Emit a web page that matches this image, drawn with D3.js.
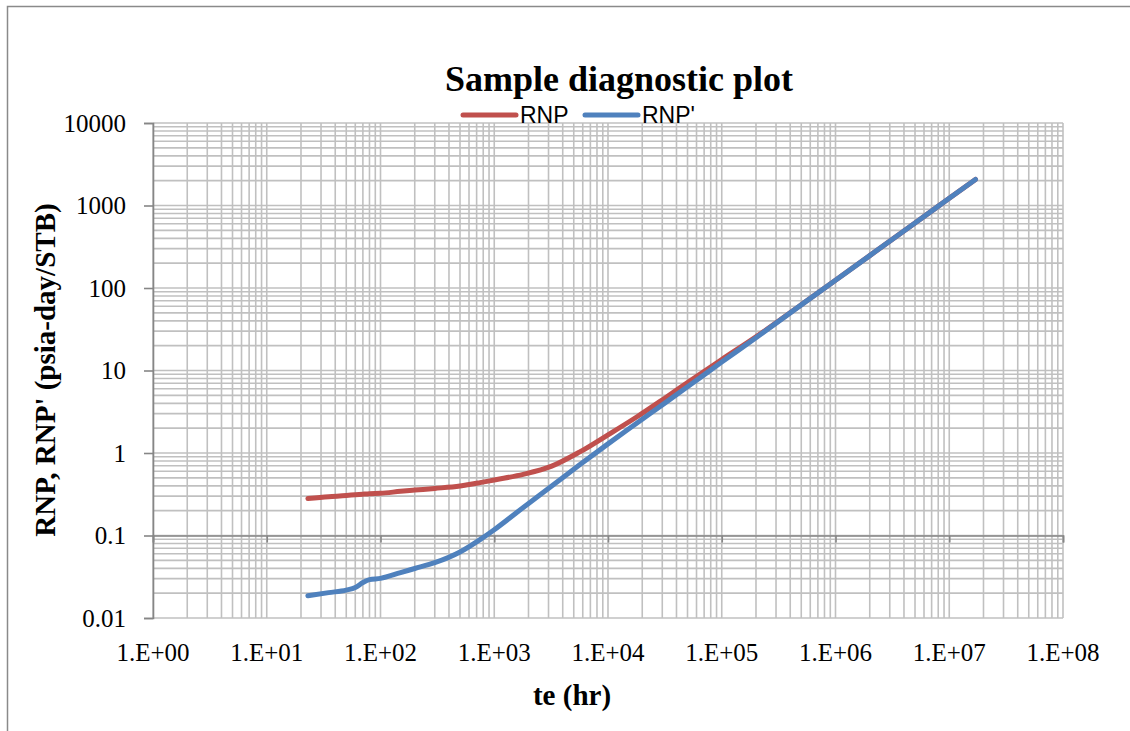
<!DOCTYPE html>
<html>
<head>
<meta charset="utf-8">
<script src="https://cdn.jsdelivr.net/npm/d3@7"></script>
<style>
  html, body { margin: 0; padding: 0; background: #fff; }
  svg { display: block; }
</style>
</head>
<body>
<svg id="chart" width="1130" height="731"></svg>
<script>
// Elapsed time (hr)
const timeHr = [23, 35, 50, 60, 70, 80, 100, 150, 200, 300, 500, 750, 1000, 1800, 3200, 5600,
  10000, 18000, 32000, 56000, 100000, 200000, 500000, 1e6, 2e6, 5e6, 1e7, 1.7e7];
// Rate-normalized pressure (psia-day/STB)
const rnp = [0.280, 0.295, 0.305, 0.312, 0.317, 0.321, 0.325, 0.343, 0.355, 0.372, 0.398, 0.437, 0.471, 0.55, 0.692, 1.023,
  1.66, 2.75, 4.68, 7.94, 13.6, 25.6, 62.6, 124, 247, 614, 1222, 2070];
// Derivative RNP'
const rnpDeriv = [0.0186, 0.0203, 0.0218, 0.0234, 0.0269, 0.0292, 0.0302, 0.0355, 0.0398, 0.0468, 0.0631, 0.0891, 0.1175, 0.219, 0.398, 0.713,
  1.29, 2.31, 4.08, 7.11, 12.65, 25.0, 62.4, 124, 247, 614, 1222, 2070];

const seriesNames = ["RNP", "RNP'"];
const seriesColors = ["#C0504D", "#4F81BD"];
const xTickLabels = ["1.E+00", "1.E+01", "1.E+02", "1.E+03", "1.E+04", "1.E+05", "1.E+06", "1.E+07", "1.E+08"];
const yTickLabels = ["0.01", "0.1", "1", "10", "100", "1000", "10000"];

const svg = d3.select("#chart");
const plot = { left: 153, right: 1063, top: 123, bottom: 618 };

const x = d3.scaleLog().domain([1, 1e8]).range([plot.left, plot.right]);
const y = d3.scaleLog().domain([0.01, 10000]).range([plot.bottom, plot.top]);

const xDecades = d3.range(0, 9).map(e => Math.pow(10, e));
const yDecades = d3.range(-2, 5).map(e => Math.pow(10, e));

// Outer chart frame
svg.append("rect")
  .attr("x", 7.5).attr("y", 6.5).attr("width", 1140).attr("height", 740)
  .attr("fill", "none").attr("stroke", "#8a8a8a").attr("stroke-width", 1.5);

const serif = "'Liberation Serif', 'Times New Roman', serif";

// Grid lines (major and minor)
const xGrid = [];
xDecades.slice(0, -1).forEach(d => { for (let k = 1; k <= 9; k++) xGrid.push(d * k); });
xGrid.push(1e8);
const yGrid = [];
yDecades.slice(0, -1).forEach(d => { for (let k = 1; k <= 9; k++) yGrid.push(d * k); });
yGrid.push(10000);

const grid = svg.append("g").attr("stroke", "#c0c0c0").attr("stroke-width", 1.6);
grid.selectAll("line.v").data(xGrid).join("line")
  .attr("class", "v")
  .attr("x1", d => x(d)).attr("x2", d => x(d))
  .attr("y1", plot.top).attr("y2", plot.bottom);
grid.selectAll("line.h").data(yGrid).join("line")
  .attr("class", "h")
  .attr("x1", plot.left).attr("x2", plot.right)
  .attr("y1", d => y(d)).attr("y2", d => y(d));

// Vertical axis
const yAxis = svg.append("g")
  .attr("transform", `translate(${plot.left},0)`)
  .call(d3.axisLeft(y).tickValues(yDecades).tickSize(9).tickPadding(18)
    .tickFormat((d, i) => yTickLabels[i]));
yAxis.select(".domain").attr("stroke", "#868686").attr("stroke-width", 1.6);
yAxis.selectAll(".tick line").attr("stroke", "#868686").attr("stroke-width", 1.6);
yAxis.selectAll(".tick text")
  .attr("font-family", serif).attr("font-size", 25).attr("fill", "#000")
  .attr("dy", "0.33em");

// Horizontal axis line crosses at 0.1, labels sit below the plot
const xAxisLine = svg.append("g")
  .attr("transform", `translate(0,${y(0.1)})`)
  .call(d3.axisBottom(x).tickValues(xDecades).tickSize(7).tickFormat(""));
xAxisLine.select(".domain").attr("stroke", "#868686").attr("stroke-width", 1.6);
xAxisLine.selectAll(".tick line").attr("stroke", "#868686").attr("stroke-width", 1.6);

svg.append("g").selectAll("text").data(xDecades).join("text")
  .attr("x", d => x(d)).attr("y", 661)
  .attr("text-anchor", "middle")
  .attr("font-family", serif).attr("font-size", 25).attr("fill", "#000")
  .text((d, i) => xTickLabels[i]);

// Series lines
const line = d3.line().x(d => x(d[0])).y(d => y(d[1])).curve(d3.curveMonotoneX);
const seriesData = [rnp, rnpDeriv].map(vals => timeHr.map((t, i) => [t, vals[i]]));
svg.append("g").selectAll("path").data(seriesData).join("path")
  .attr("d", line)
  .attr("fill", "none")
  .attr("stroke", (d, i) => seriesColors[i])
  .attr("stroke-width", 5)
  .attr("stroke-linecap", "round")
  .attr("stroke-linejoin", "round");

// Title
svg.append("text")
  .attr("x", 619).attr("y", 91)
  .attr("text-anchor", "middle")
  .attr("font-family", serif).attr("font-weight", "bold").attr("font-size", 36)
  .text("Sample diagnostic plot");

// Legend
const legend = svg.append("g").attr("transform", "translate(463,115)");
const legendItems = legend.selectAll("g").data(seriesNames).join("g")
  .attr("transform", (d, i) => `translate(${i * 122},0)`);
legendItems.append("line")
  .attr("x1", 0).attr("x2", 53).attr("y1", 0).attr("y2", 0)
  .attr("stroke", (d, i) => seriesColors[i]).attr("stroke-width", 5)
  .attr("stroke-linecap", "round");
legendItems.append("text")
  .attr("x", 57).attr("y", 8)
  .attr("font-family", "'Liberation Sans Narrow', 'Liberation Sans', sans-serif")
  .attr("font-size", 23).attr("fill", "#000")
  .text(d => d);

// Axis titles
svg.append("text")
  .attr("x", 572).attr("y", 705)
  .attr("text-anchor", "middle")
  .attr("font-family", serif).attr("font-weight", "bold").attr("font-size", 29)
  .text("te (hr)");

svg.append("text")
  .attr("transform", "translate(55,370) rotate(-90)")
  .attr("text-anchor", "middle")
  .attr("font-family", serif).attr("font-weight", "bold").attr("font-size", 29)
  .text("RNP, RNP' (psia-day/STB)");
</script>
</body>
</html>
